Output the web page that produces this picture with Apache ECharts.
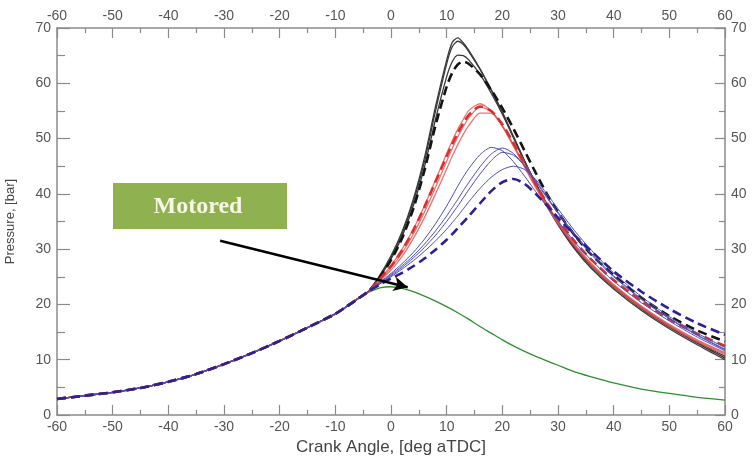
<!DOCTYPE html>
<html>
<head>
<meta charset="utf-8">
<title>Cylinder pressure vs crank angle</title>
<script src="https://cdn.jsdelivr.net/npm/echarts@6/dist/echarts.min.js"></script>
<style>
  html, body { margin: 0; padding: 0; background: #fff; }
  #chart { width: 754px; height: 457px; }
</style>
</head>
<body>
<div id="chart"></div>
<script>
// Crank angle range and ticks [deg aTDC]
const angleMin = -60, angleMax = 60, angleStep = 10;
// Pressure range and ticks [bar]
const pressureMin = 0, pressureMax = 70, pressureStep = 10;

// Compression stroke, shared by every trace
const angleCompression = [-60, -55, -50, -45, -40, -35, -30, -25, -20, -15, -10, -8, -6];
const pressureCompression = [2.9, 3.5, 4.1, 4.9, 6.0, 7.4, 9.2, 11.2, 13.4, 15.8, 18.3, 19.6, 21.0];

// Motored trace after -6 deg
const angleMotored = [-4, -2, 0, 2, 4, 6, 8, 10, 12, 14, 16, 18, 20, 22, 24, 26, 28, 30, 33, 36, 40, 45, 50, 55, 60];
const pressureMotored = [22.2, 23.0, 23.2, 22.9, 22.3, 21.5, 20.6, 19.6, 18.5, 17.3, 16.0, 14.8, 13.6, 12.5, 11.5, 10.6, 9.8, 9.0, 7.8, 6.9, 5.8, 4.7, 3.9, 3.2, 2.7];

// Fired traces after -6 deg
const angleFired = [-4, -2, 0, 2, 4, 6, 8, 10, 11, 12, 13, 14, 16, 18, 20, 22, 24, 26, 28, 30, 33, 36, 40, 45, 50, 55, 60];

const blackSolidA = [22.4, 25.3, 28.8, 33.2, 39.0, 46.5, 55.8, 64.2, 67.4, 68.2, 67.3, 65.9, 62.6, 58.8, 54.7, 50.2, 45.8, 41.6, 37.8, 34.4, 30.0, 26.5, 22.8, 18.9, 15.6, 12.7, 10.0];
const blackSolidB = [22.4, 25.1, 28.5, 32.8, 38.5, 45.8, 55.0, 63.5, 66.6, 67.6, 67.0, 65.7, 62.5, 58.8, 54.8, 50.4, 46.0, 41.9, 38.1, 34.7, 30.3, 26.8, 23.1, 19.2, 15.9, 13.0, 10.3];
const blackSolidC = [22.4, 25.0, 28.2, 32.3, 37.8, 44.8, 53.5, 61.2, 63.9, 65.1, 65.0, 64.2, 61.6, 58.2, 54.4, 50.2, 45.9, 41.9, 38.2, 34.9, 30.6, 27.1, 23.4, 19.5, 16.1, 13.2, 10.6];
const blackDashed = [22.4, 24.9, 28.0, 32.0, 37.3, 44.2, 52.4, 59.4, 61.9, 63.4, 63.9, 63.5, 61.6, 58.8, 55.5, 51.8, 47.8, 43.8, 40.0, 36.7, 32.5, 29.0, 25.3, 21.2, 17.9, 15.3, 13.3];

const redSolidA = [22.4, 24.6, 27.0, 30.0, 33.6, 37.8, 42.5, 47.3, 49.6, 51.7, 53.5, 55.1, 56.3, 55.0, 52.2, 48.6, 44.8, 41.1, 37.7, 34.6, 30.5, 27.0, 23.2, 19.3, 16.0, 13.2, 10.9];
const redSolidB = [22.4, 24.4, 26.6, 29.3, 32.7, 36.7, 41.2, 45.9, 48.2, 50.3, 52.2, 53.8, 55.7, 54.9, 52.3, 48.8, 45.0, 41.3, 37.9, 34.8, 30.7, 27.2, 23.4, 19.5, 16.2, 13.4, 11.1];
const redSolidC = [22.4, 24.2, 26.2, 28.7, 31.9, 35.7, 40.0, 44.5, 46.8, 48.9, 50.8, 52.4, 54.6, 54.6, 52.3, 48.9, 45.2, 41.5, 38.1, 35.0, 30.9, 27.4, 23.6, 19.7, 16.4, 13.6, 11.3];
const redDashed = [22.4, 24.6, 26.9, 29.8, 33.4, 37.6, 42.2, 46.8, 49.0, 51.0, 52.8, 54.3, 55.8, 55.0, 52.6, 49.2, 45.5, 41.8, 38.4, 35.4, 31.4, 28.1, 24.4, 20.6, 17.3, 14.7, 12.5];

const blueSolidA = [22.4, 24.0, 25.6, 27.4, 29.4, 31.8, 34.6, 37.8, 39.6, 41.4, 43.1, 44.6, 47.1, 48.4, 47.8, 45.8, 43.2, 40.4, 37.7, 35.1, 31.3, 28.0, 24.2, 20.3, 17.0, 14.1, 11.6];
const blueSolidB = [22.4, 23.9, 25.4, 27.0, 28.8, 30.9, 33.3, 36.0, 37.5, 39.0, 40.6, 42.1, 44.9, 47.2, 48.3, 47.3, 45.0, 42.2, 39.3, 36.5, 32.5, 29.0, 25.0, 20.9, 17.4, 14.4, 11.8];
const blueSolidC = [22.4, 23.8, 25.2, 26.7, 28.4, 30.3, 32.5, 35.0, 36.4, 37.8, 39.3, 40.8, 43.6, 46.0, 47.5, 47.0, 45.1, 42.4, 39.5, 36.7, 32.7, 29.2, 25.2, 21.0, 17.5, 14.5, 11.9];
const blueSolidD = [22.4, 23.7, 25.0, 26.4, 27.9, 29.6, 31.5, 33.6, 34.8, 36.0, 37.3, 38.6, 41.0, 43.0, 44.4, 45.0, 44.4, 42.6, 40.0, 37.3, 33.3, 29.8, 25.7, 21.4, 17.8, 14.8, 12.2];
const blueDashed = [22.4, 23.6, 24.7, 25.7, 26.9, 28.3, 29.9, 31.7, 32.7, 33.8, 34.9, 36.0, 38.3, 40.5, 42.1, 42.7, 41.8, 40.0, 37.9, 35.7, 32.5, 29.6, 26.0, 22.3, 19.2, 16.6, 14.5];

// Annotation arrow: tail and head in [deg, bar]
const arrowTail = [-30.7, 31.5];
const arrowHead = [3.0, 23.1];

function trace(angles, pressures) {
  const pts = angleCompression.map((a, i) => [a, pressureCompression[i]]);
  angles.forEach((a, i) => pts.push([a, pressures[i]]));
  return pts;
}

function line(name, values, angles, style) {
  return {
    name: name,
    type: 'line',
    data: trace(angles, values),
    showSymbol: false,
    symbol: 'none',
    smooth: 0.25,
    silent: true,
    lineStyle: style
  };
}

const blackSolidStyle = { color: '#3a3a3a', width: 1.3 };
const blackDashStyle = { color: '#141414', width: 2.6, type: [9, 5] };
const redSolidStyle = { color: 'rgba(226,80,80,0.8)', width: 1.3 };
const redDashStyle = { color: '#d8302f', width: 2.6, type: [9, 5] };
const blueSolidStyle = { color: '#4d4db8', width: 1 };
const blueDashStyle = { color: '#2c2094', width: 2.6, type: [9, 5] };

const axisGrey = '#8a8a8a';
const fontFamily = 'Liberation Sans, Arial, sans-serif';
const labelStyle = { color: '#555', fontSize: 14, fontFamily: fontFamily };

function xAxisDef(position, withName) {
  return {
    type: 'value', position: position,
    min: angleMin, max: angleMax, interval: angleStep,
    name: withName ? 'Crank Angle, [deg aTDC]' : '',
    nameLocation: 'middle', nameGap: 21,
    nameTextStyle: { color: '#444', fontSize: 17, fontFamily: fontFamily },
    axisLine: { show: true, onZero: false, lineStyle: { color: axisGrey, width: 1.5 } },
    axisTick: { show: true, inside: true, length: 10, lineStyle: { color: axisGrey, width: 1.2 } },
    minorTick: { show: true, splitNumber: 2, length: 5, lineStyle: { color: axisGrey, width: 1.2 } },
    axisLabel: Object.assign({ margin: 5 }, labelStyle),
    splitLine: { show: false }
  };
}

function yAxisDef(position, withName, tickLen) {
  return {
    type: 'value', position: position,
    min: pressureMin, max: pressureMax, interval: pressureStep,
    name: withName ? 'Pressure, [bar]' : '',
    nameLocation: 'middle', nameGap: 40,
    nameTextStyle: { color: '#444', fontSize: 13, fontFamily: fontFamily },
    axisLine: { show: true, onZero: false, lineStyle: { color: axisGrey, width: 1.5 } },
    axisTick: { show: true, inside: true, length: tickLen, lineStyle: { color: axisGrey, width: 1.2 } },
    minorTick: { show: true, splitNumber: 2, length: Math.round(tickLen * 0.6), lineStyle: { color: axisGrey, width: 1.2 } },
    axisLabel: Object.assign({ margin: 6 }, labelStyle),
    splitLine: { show: false }
  };
}

const series = [
  Object.assign(line('Motored', pressureMotored, angleMotored, { color: '#2f8f2f', width: 1.3 }), {
    markLine: {
      silent: true,
      symbol: ['none', 'arrow'],
      symbolSize: [11, 14],
      label: { show: false },
      lineStyle: { color: '#000', width: 2.6, type: 'solid' },
      data: [[{ coord: arrowTail }, { coord: arrowHead }]]
    }
  }),
  line('Fired 1', blackSolidA, angleFired, blackSolidStyle),
  line('Fired 2', blackSolidB, angleFired, blackSolidStyle),
  line('Fired 3', blackSolidC, angleFired, blackSolidStyle),
  line('Fired mean', blackDashed, angleFired, blackDashStyle),
  line('Retarded 1', redSolidA, angleFired, redSolidStyle),
  line('Retarded 2', redSolidB, angleFired, redSolidStyle),
  line('Retarded 3', redSolidC, angleFired, redSolidStyle),
  line('Retarded mean', redDashed, angleFired, redDashStyle),
  line('Late 1', blueSolidA, angleFired, blueSolidStyle),
  line('Late 2', blueSolidB, angleFired, blueSolidStyle),
  line('Late 3', blueSolidC, angleFired, blueSolidStyle),
  line('Late 4', blueSolidD, angleFired, blueSolidStyle),
  line('Late mean', blueDashed, angleFired, blueDashStyle)
];

const chart = echarts.init(document.getElementById('chart'), null, { renderer: 'canvas' });
chart.setOption({
  animation: false,
  backgroundColor: '#fff',
  grid: { left: 57, right: 29, top: 28, bottom: 42, containLabel: false, outerBoundsMode: 'none' },
  xAxis: [xAxisDef('bottom', true), xAxisDef('top', false)],
  yAxis: [yAxisDef('left', true, 13), yAxisDef('right', false, 10)],
  series: series,
  graphic: [
    {
      type: 'rect',
      shape: { x: 113, y: 183, width: 174, height: 46 },
      style: { fill: '#8fb14f' },
      z: 50
    },
    {
      type: 'text',
      x: 198, y: 207,
      style: {
        text: 'Motored',
        fill: '#f7f7e6',
        font: 'bold 24px "Liberation Serif", "Times New Roman", serif',
        align: 'center',
        verticalAlign: 'middle'
      },
      z: 51
    }
  ]
});
</script>
</body>
</html>
